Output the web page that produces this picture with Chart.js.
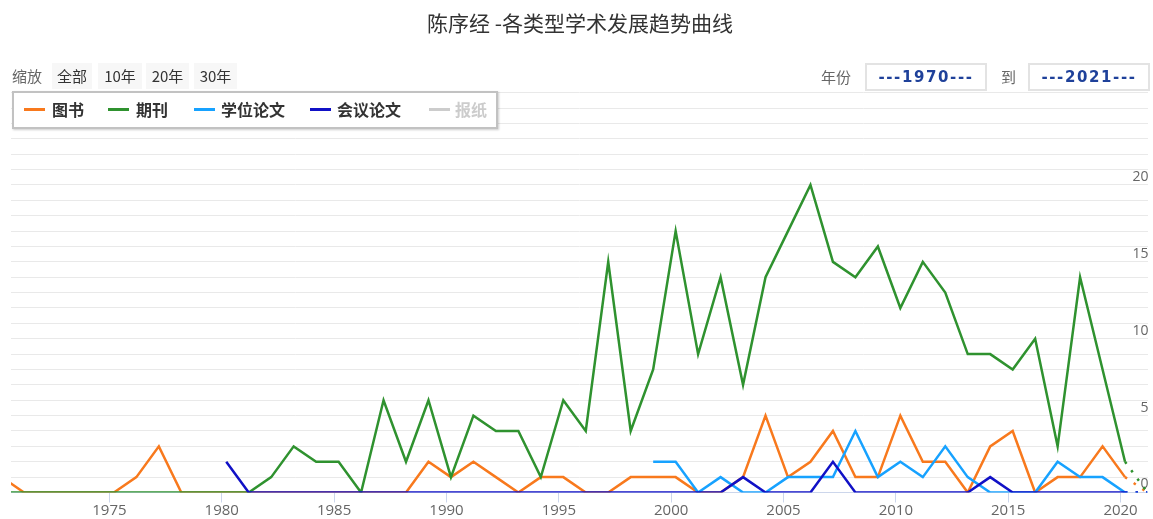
<!DOCTYPE html>
<html>
<head>
<meta charset="utf-8">
<script src="https://cdn.jsdelivr.net/npm/chart.js@4.4.1/dist/chart.umd.min.js"></script>
<style>
  html, body { margin: 0; padding: 0; background: #fff; }
  #wrap { position: relative; width: 1153px; height: 519px; overflow: hidden; font-family: "Noto Sans CJK SC", "Noto Sans", sans-serif; }
  #c { position: absolute; left: 0; top: 0; }
  .abs { position: absolute; white-space: nowrap; }
  #title { left: 0; width: 1160px; top: 8px; text-align: center; font-size: 21px; color: #333; line-height: 28px; }
  .zoomlbl { left: 12px; top: 63px; height: 26px; line-height: 26px; font-size: 15px; color: #666; }
  .btn { top: 63px; height: 26px; line-height: 26px; font-size: 15px; color: #333; background: #f7f7f7; text-align: center; }
  .inlbl { top: 63px; height: 28px; line-height: 28px; font-size: 15px; color: #666; }
  .inbox { top: 63px; height: 24px; line-height: 24px; border: 2px solid #e3e3e3; font-family: "DejaVu Sans", sans-serif; font-weight: bold; font-size: 15px; letter-spacing: 1.6px; color: #1f419a; text-align: center; background: #fff; }
  #legend { left: 12px; top: 91px; width: 482px; height: 34px; border: 2px solid #c2c2c2; background: #fff; box-shadow: 1px 1px 2px rgba(0,0,0,0.2); }
  .litem { top: 0; height: 34px; line-height: 32px; font-size: 16px; font-weight: bold; color: #333; }
  .lline { position: absolute; height: 3px; top: 15px; width: 21px; }
</style>
</head>
<body>
<div id="wrap">
  <canvas id="c" width="1153" height="519"></canvas>
  <div id="title" class="abs">陈序经 -各类型学术发展趋势曲线</div>
  <div class="abs zoomlbl">缩放</div>
  <div class="abs btn" style="left:52px;width:40px;">全部</div>
  <div class="abs btn" style="left:98px;width:44px;">10年</div>
  <div class="abs btn" style="left:146px;width:43px;">20年</div>
  <div class="abs btn" style="left:194px;width:43px;">30年</div>
  <div class="abs inlbl" style="left:821px;">年份</div>
  <div class="abs inbox" style="left:865px;width:118px;">---1970---</div>
  <div class="abs inlbl" style="left:1001px;">到</div>
  <div class="abs inbox" style="left:1028px;width:118px;">---2021---</div>
  <div id="legend" class="abs"></div>
</div>
<script>
// ---- data ----
const years = [1970,1971,1972,1973,1974,1975,1976,1977,1978,1979,
               1980,1981,1982,1983,1984,1985,1986,1987,1988,1989,
               1990,1991,1992,1993,1994,1995,1996,1997,1998,1999,
               2000,2001,2002,2003,2004,2005,2006,2007,2008,2009,
               2010,2011,2012,2013,2014,2015,2016,2017,2018,2019,
               2020,2021];
const books = [1,0,0,0,0,0,1,3,0,0,
               0,0,0,0,0,0,0,0,0,2,
               1,2,1,0,1,1,0,0,1,1,
               1,0,0,1,5,1,2,4,1,1,
               5,2,2,0,3,4,0,1,1,3,
               1,0];
const journals = [0,0,0,0,0,0,0,0,0,0,
                  0,0,1,3,2,2,0,6,2,6,
                  1,5,4,4,1,6,4,15,4,8,
                  17,9,14,7,14,17,20,15,14,16,
                  12,15,13,9,9,8,10,3,14,8,
                  2,0];
const theses = [null,null,null,null,null,null,null,null,null,null,
                null,null,null,null,null,null,null,null,null,null,
                null,null,null,null,null,null,null,null,null,2,
                2,0,1,0,0,1,1,1,4,1,
                2,1,3,1,0,0,0,2,1,1,
                0,0];
const conferences = [null,null,null,null,null,null,null,null,null,null,
                     2,0,0,0,0,0,0,0,0,0,
                     0,0,0,0,0,0,0,0,0,0,
                     0,0,0,1,0,0,0,2,0,0,
                     0,0,0,0,1,0,0,0,0,0,
                     0,0];
const newspapers = [];
const seriesNames = ['图书','期刊','学位论文','会议论文','报纸'];
const seriesColors = ['#f8791d','#2f922f','#17a2ff','#1111c6','#cccccc'];
const xTickLabels = [1975,1980,1985,1990,1995,2000,2005,2010,2015,2020];
const yTickLabels = [0,5,10,15,20];

// ---- legend (HTML) ----
const legendX = [[10,38],[94,122],[180,207],[296,323],[415,441]];
const leg = document.getElementById('legend');
seriesNames.forEach((n, i) => {
  const it = document.createElement('div');
  it.className = 'abs litem';
  it.style.left = legendX[i][0] + 'px';
  if (i === 4) it.style.color = '#cccccc';
  const ln = document.createElement('span');
  ln.className = 'lline';
  ln.style.left = '0px';
  ln.style.background = seriesColors[i];
  it.appendChild(ln);
  const tx = document.createElement('span');
  tx.textContent = n;
  tx.style.position = 'absolute';
  tx.style.left = (legendX[i][1] - legendX[i][0]) + 'px';
  it.appendChild(tx);
  leg.appendChild(it);
});

// ---- chart ----
const lastIdx = years.length - 1;
function mk(values) { return years.map((y, i) => ({x: y, y: values[i]})); }
function ds(label, values, color, order, hidden) {
  return {
    label, data: mk(values), borderColor: color, backgroundColor: color,
    borderWidth: 2.5, pointRadius: 0, pointHoverRadius: 0, tension: 0,
    spanGaps: false, order, hidden: !!hidden,
    segment: { borderDash: ctx => ctx.p1DataIndex === lastIdx ? [2.5, 8] : undefined }
  };
}
const tickShift = 0.2;
new Chart(document.getElementById('c'), {
  type: 'line',
  data: {
    datasets: [
      ds(seriesNames[0], books, seriesColors[0], 4),
      ds(seriesNames[1], journals, seriesColors[1], 3),
      ds(seriesNames[2], theses, seriesColors[2], 2),
      ds(seriesNames[3], conferences, seriesColors[3], 1),
      ds(seriesNames[4], newspapers, seriesColors[4], 0, true)
    ]
  },
  options: {
    responsive: false, animation: false, devicePixelRatio: 1,
    layout: { padding: { left: 11, right: 3.5, top: 92.7, bottom: 0 } },
    plugins: { legend: { display: false }, tooltip: { enabled: false }, title: { display: false } },
    scales: {
      x: {
        type: 'linear', min: 1970.42, max: 2021,
        afterBuildTicks: s => { s.ticks = xTickLabels.map(v => ({ value: v - tickShift })); },
        ticks: {
          autoSkip: false, maxRotation: 0, padding: 0, color: '#666',
          font: { family: 'Open Sans', size: 15, lineHeight: 1.1 },
          callback: (v, i) => String(xTickLabels[i])
        },
        grid: { drawOnChartArea: false, drawTicks: true, tickLength: 10, tickColor: '#ccd6eb', lineWidth: 1 },
        border: { display: true, color: '#ccd6eb', width: 1 }
      },
      y: {
        position: 'right', min: 0, max: 26,
        ticks: {
          stepSize: 1, autoSkip: false, mirror: true, padding: 1, labelOffset: -8,
          color: '#666', font: { family: 'Open Sans', size: 14 },
          callback: v => yTickLabels.includes(v) ? String(v) : ''
        },
        grid: { color: '#e9e9e9', lineWidth: 1, drawTicks: false },
        border: { display: false }
      }
    }
  }
});
</script>
</body>
</html>
